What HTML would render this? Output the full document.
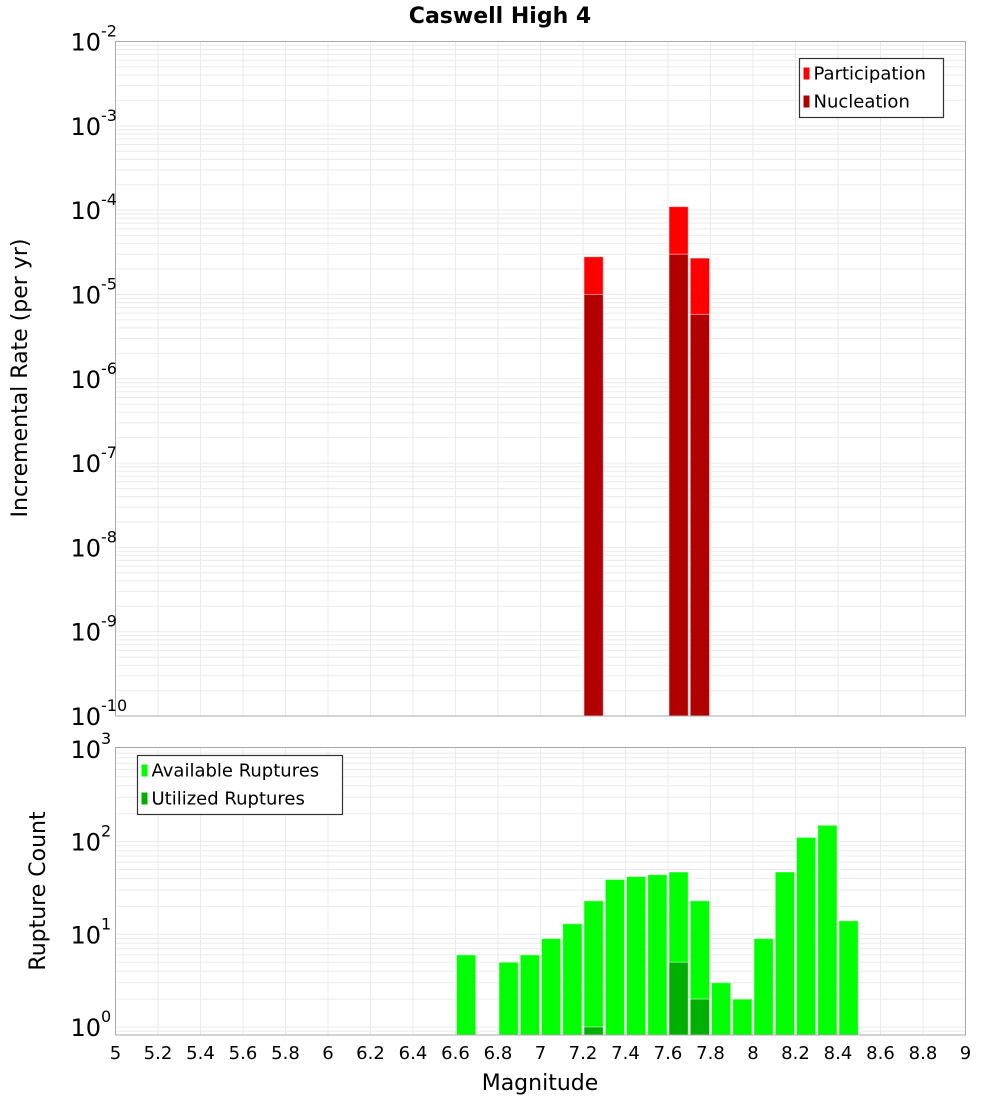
<!DOCTYPE html>
<html><head><meta charset="utf-8"><style>
body{margin:0;background:#fff}
text{font-family:"DejaVu Sans","Liberation Sans",sans-serif}
</style></head><body>
<svg id="chart" width="1000" height="1100" xmlns="http://www.w3.org/2000/svg">
<text x="500" y="23" text-anchor="middle" font-size="22" font-weight="bold">Caswell High 4</text>
<g id="topPlot"></g><g id="botPlot"></g>
<text transform="translate(27,378) rotate(-90)" text-anchor="middle" font-size="22">Incremental Rate (per yr)</text>
<text transform="translate(45,891) rotate(-90)" text-anchor="middle" font-size="22">Rupture Count</text>
<text x="540" y="1090" text-anchor="middle" font-size="22">Magnitude</text>
</svg>
<script>
const mags=[6.65,6.75,6.85,6.95,7.05,7.15,7.25,7.35,7.45,7.55,7.65,7.75,7.85,7.95,8.05,8.15,8.25,8.35,8.45];
const available=[6,0,5,6,9,13,23,39,42,44,47,23,3,2,9,47,111,150,14];
const utilized=[0,0,0,0,0,0,1,0,0,0,5,2,0,0,0,0,0,0,0];
const rateMags=[7.25,7.65,7.75];
const participation=[2.8e-5,1.1e-4,2.7e-5];
const nucleation=[1e-5,3e-5,5.8e-6];
const xTicks=[5,5.2,5.4,5.6,5.8,6,6.2,6.4,6.6,6.8,7,7.2,7.4,7.6,7.8,8,8.2,8.4,8.6,8.8,9];
const topExp=[-10,-9,-8,-7,-6,-5,-4,-3,-2];
const botExp=[0,1,2,3];
const NS="http://www.w3.org/2000/svg";
const L=115.5,R=965.5;
const x=m=>L+(m-5)*(R-L)/4;
const T1=41.5,B1=716;
const yT=v=>B1-(Math.log10(v)+10)*(B1-T1)/8;
const T2=747.5,B2=1035;
const yB=v=>1027-Math.log10(v)*92.7;
function mk(p,tag,at){const e=document.createElementNS(NS,tag);for(const k in at)e.setAttribute(k,at[k]);p.appendChild(e);return e;}
const gTop=document.getElementById('topPlot'),gBot=document.getElementById('botPlot');
function frame(g,T,B,lo,hi,yf,name){
  mk(g,'rect',{x:L,y:T,width:R-L,height:B-T,fill:'#fff'});
  for(let e=lo;e<hi;e++)for(let k=1;k<10;k++){const v=k*Math.pow(10,e),yy=yf(v);if(yy<T||yy>B)continue;
    const ln=mk(g,'line',{x1:L,x2:R,y1:yy,y2:yy,stroke:'#ebebeb','stroke-width':1});
    
    }
  xTicks.forEach(t=>{const ln=mk(g,'line',{x1:x(t),x2:x(t),y1:T,y2:B,stroke:'#ebebeb','stroke-width':1});
    
    });
}
frame(gTop,T1,B1,-10,-2,yT,'top');
frame(gBot,T2,B2,-1,3,yB,'bottom');
function bar(g,m,v,fill,name,yf,B){if(!v)return;const yy=Math.max(yf(v),0);
  const r=mk(g,'rect',{x:x(m-0.05)+1,y:yy,width:(R-L)/40-2,height:B-yy,fill:fill,stroke:'rgba(255,255,255,0.5)','stroke-width':1});
  
  }
rateMags.forEach((m,i)=>bar(gTop,m,participation[i],'#ff0000','participation-bar',yT,B1));
rateMags.forEach((m,i)=>bar(gTop,m,nucleation[i],'#b20000','nucleation-bar',yT,B1));
mags.forEach((m,i)=>bar(gBot,m,available[i],'#00ff00','available-bar',yB,B2));
mags.forEach((m,i)=>bar(gBot,m,utilized[i],'#00b000','utilized-bar',yB,B2));
mk(gTop,'rect',{x:L,y:T1,width:R-L,height:B1-T1,fill:'none',stroke:'#aaa'});
mk(gBot,'rect',{x:L,y:T2,width:R-L,height:B2-T2,fill:'none',stroke:'#aaa'});
function ylab(g,e,yy,name){const t=mk(g,'text',{x:101,y:yy+9,'text-anchor':'end','font-size':24});t.textContent='10';
  
  
  const s=mk(g,'text',{x:101,y:yy-5,'font-size':16});s.textContent=String(e);
  
  }
topExp.forEach(e=>ylab(gTop,e,yT(Math.pow(10,e)),'top-y-tick-label'));
botExp.forEach(e=>ylab(gBot,e,yB(Math.pow(10,e)),'bottom-y-tick-label'));
xTicks.forEach(t=>{const tx=mk(gBot,'text',{x:x(t),y:1059,'text-anchor':'middle','font-size':18});tx.textContent=String(t);
  
  });
function legend(g,bx,by,w,items,name){const lg=mk(g,'g',{});
  
  
  mk(lg,'rect',{x:bx,y:by,width:w,height:59,fill:'#fff',stroke:'#333','stroke-width':1.2});
  items.forEach((it,i)=>{const cy=by+15+i*28;mk(lg,'rect',{x:bx+4,y:cy-6,width:6,height:12,fill:it[1]});
    const t=mk(lg,'text',{x:bx+14,y:cy+6,'font-size':18});t.textContent=it[0];
    
    });}
legend(gTop,799.5,58.5,144,[['Participation','#ff0000'],['Nucleation','#b20000']],'top-legend');
legend(gBot,137.5,755.5,205,[['Available Ruptures','#00ff00'],['Utilized Ruptures','#00b000']],'bottom-legend');
</script>
</body></html>
